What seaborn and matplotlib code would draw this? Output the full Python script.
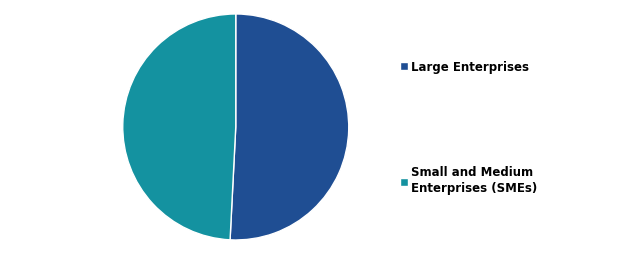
import matplotlib
matplotlib.use("Agg")
import matplotlib.pyplot as plt
import seaborn as sns

categories = ["Large Enterprises", "Small and Medium\nEnterprises (SMEs)"]
shares = [50.8, 49.2]
colors = ["#1F4E93", "#1492A0"]

sns.set_theme(style="white")
plt.rcParams['font.family'] = ['DejaVu Sans']

fig = plt.figure(figsize=(6.2, 2.56), dpi=100)
ax = fig.add_axes([0.198, 0.0625, 0.3645, 0.883])
wedges, _ = ax.pie(shares, colors=colors, startangle=90, counterclock=False,
                   wedgeprops=dict(edgecolor="white", linewidth=1))
ax.set_xlim(-1, 1)
ax.set_ylim(-1, 1)
ax.set_aspect("equal")

leg = fig.legend(wedges, categories, loc="upper left", bbox_to_anchor=(0.628, 0.805),
                 frameon=False, handlelength=0.65, handleheight=0.65, handletextpad=0.25,
                 labelspacing=7.85, prop=dict(weight="bold", size=8.5))
for t in leg.get_texts():
    t.set_color("#000000")
    t.set_linespacing(1.3)

fig.savefig("out.png", dpi=100)
